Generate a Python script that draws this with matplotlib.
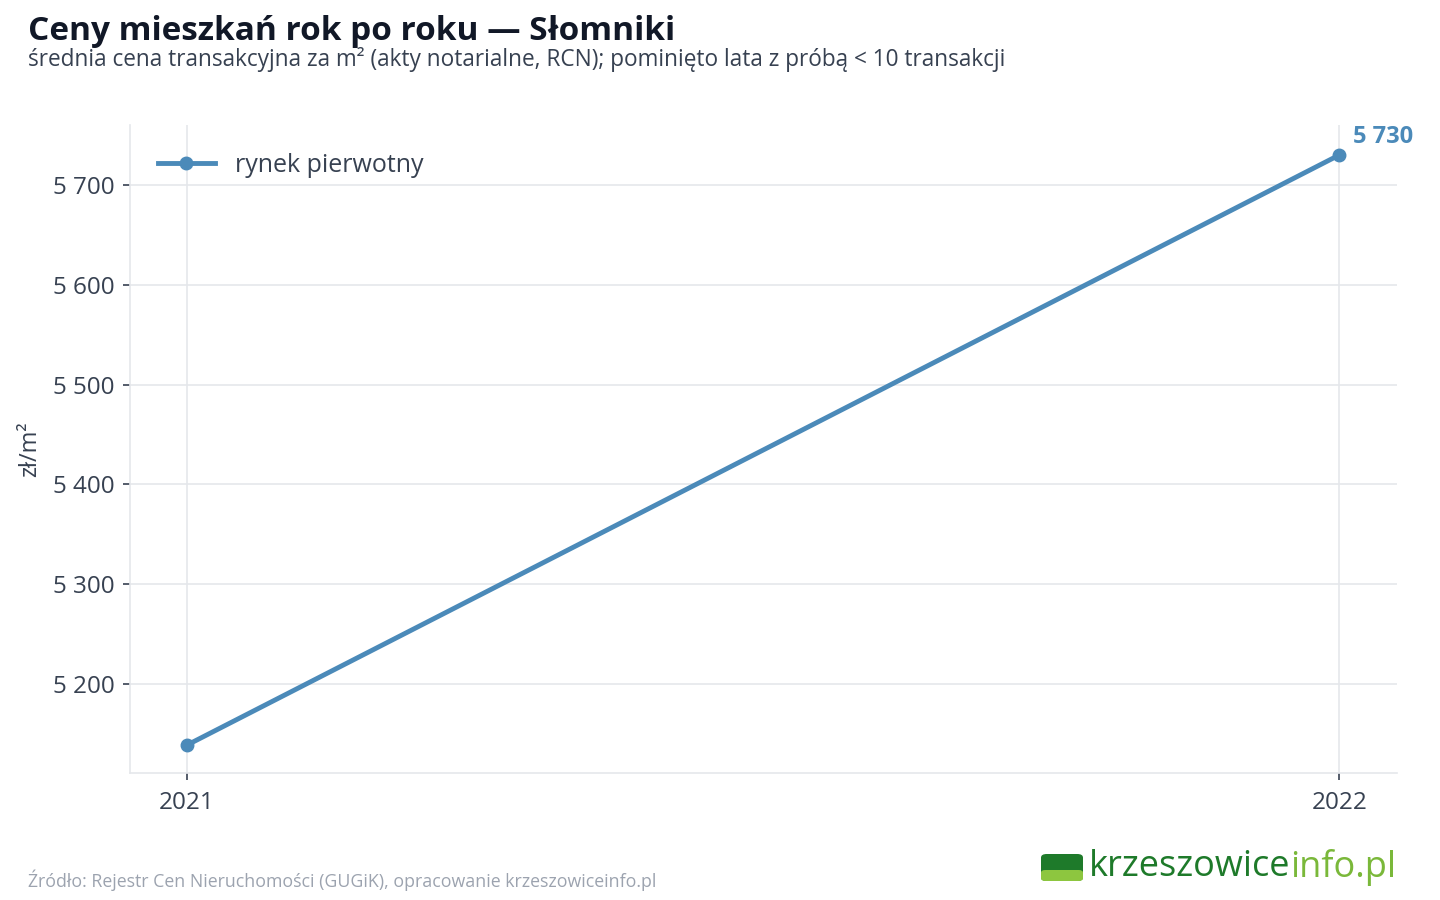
import matplotlib
matplotlib.use("Agg")
import matplotlib.pyplot as plt
from matplotlib.patches import FancyBboxPatch
from matplotlib.ticker import FuncFormatter

plt.rcParams['font.family'] = ['Open Sans', 'DejaVu Sans']

years = [2021, 2022]
primary = [5139, 5730]
series_label = "rynek pierwotny"

blue = '#4b8ab9'
dark = '#374151'
grid_c = '#e5e7eb'

fig = plt.figure(figsize=(14.4, 9), dpi=100)
ax = fig.add_axes([130/1440, 1 - 773/900, (1397-130)/1440, (773-125)/900])

ax.plot(years, primary, color=blue, lw=3.5, marker='o', ms=9, label=series_label, zorder=3)
ax.annotate(f"{primary[-1]:,}".replace(',', ' '), (years[-1], primary[-1]),
            xytext=(10, 4), textcoords='offset points', color=blue,
            fontsize=17, fontweight='bold', ha='left', va='bottom')

ax.set_xlim(2021 - 0.0495, 2022 + 0.05)
ax.set_ylim(5111, 5760)
ax.set_xticks(years)
ax.set_xticklabels([str(y) for y in years])
ax.set_yticks([5200, 5300, 5400, 5500, 5600, 5700])
ax.yaxis.set_major_formatter(FuncFormatter(lambda v, p: f"{int(v):,}".replace(',', ' ')))
ax.grid(True, color=grid_c, lw=1.2)
ax.set_axisbelow(True)
for s in ['top', 'right']:
    ax.spines[s].set_visible(False)
for s in ['left', 'bottom']:
    ax.spines[s].set_color(grid_c)
    ax.spines[s].set_linewidth(1.2)
ax.tick_params(axis='both', colors=dark, labelsize=17.5, length=5, width=1.2, pad=6)
ax.tick_params(axis='x', pad=8)
ax.set_ylabel("zł/m²", color=dark, fontsize=17, labelpad=8)

leg = ax.legend(loc='upper left', frameon=False, fontsize=18, handlelength=2.3,
                borderaxespad=0.7, labelcolor=dark)

fig.text(28/1440, 1 - 31/900, "Ceny mieszkań rok po roku — Słomniki", fontsize=24,
         fontweight='bold', color='#111827', va='center', ha='left')
fig.text(28/1440, 1 - 60/900,
         "średnia cena transakcyjna za m² (akty notarialne, RCN); pominięto lata z próbą < 10 transakcji",
         fontsize=16.3, color=dark, va='center', ha='left')
fig.text(28/1440, 1 - 880/900,
         "Źródło: Rejestr Cen Nieruchomości (GUGiK), opracowanie krzeszowiceinfo.pl",
         fontsize=12.8, color='#9ca3af', va='center', ha='left')

# logo
logo = FancyBboxPatch((1041/1440, 1 - 881/900), 42/1440, 27/900,
                      boxstyle="round,pad=0,rounding_size=0.004",
                      transform=fig.transFigure, fc='#1e7a2a', ec='none')
fig.patches.append(logo)
logo2 = FancyBboxPatch((1041/1440, 1 - 881/900), 42/1440, 11/900,
                       boxstyle="round,pad=0,rounding_size=0.003",
                       transform=fig.transFigure, fc='#8dc63f', ec='none')
fig.patches.append(logo2)
t1 = fig.text(1089/1440, 1 - 867/900, "krzeszowice", fontsize=26, color='#1e7a2a',
              va='center', ha='left')
fig.canvas.draw()
bb = t1.get_window_extent()
fig.text(bb.x1 / 1440, 1 - 867/900, "info.pl", fontsize=26, color='#7ab83a',
         va='center', ha='left')

fig.savefig("out.png", dpi=100)
